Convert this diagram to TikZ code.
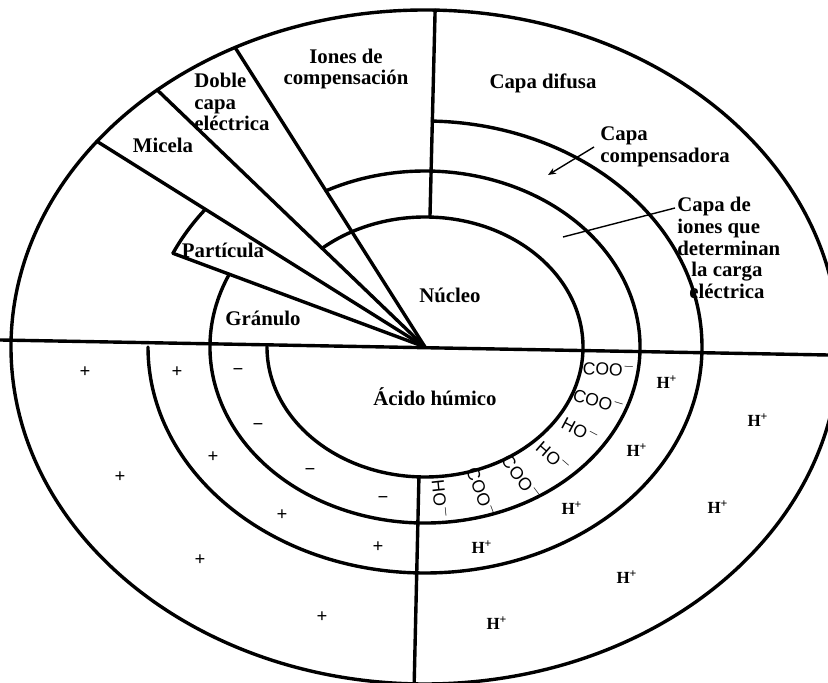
\documentclass[tikz,border=0pt]{standalone}
\usepackage{fontspec}
\setmainfont{Liberation Serif}
\setsansfont{Liberation Sans}
\usepackage{tikz}
\usetikzlibrary{arrows.meta}

\begin{document}
\begin{tikzpicture}[
  x=0.5pt, y=0.5pt,
  font=\fontsize{10.4}{10.8}\selectfont\bfseries,
  rng/.style={line width=1.7pt, line cap=round},
  lab/.style={align=center, inner sep=0pt},
  ion/.style={font=\fontsize{8.5}{9}\selectfont\bfseries, inner sep=0pt},
  sgn/.style={font=\fontsize{9.5}{10}\selectfont\bfseries, inner sep=0pt},
  grp/.style={font=\sffamily\fontsize{8.8}{9}\selectfont, inner sep=0pt},
  ar/.style={-{Stealth[length=4pt, width=3.2pt]}, line width=0.7pt},
  ptr/.style={line width=0.7pt}]
\useasboundingbox (-425,-336) rectangle (403,347);
\coordinate (O) at (0,0);
% ---- outer boundary and dividing line (the scan is squashed, so the rings are ellipses)
\draw[rng] (O) ellipse [x radius=414, y radius=337];
\draw[rng] (-425,7) -- (403,-8);
% ---- rings: full below, cut by the sectors above
\draw[rng] (-158,0) arc[start angle=180, end angle=490.6, x radius=158, y radius=130];
\draw[rng] (155.6:215 and 176) arc[start angle=155.6, end angle=477.4, x radius=215, y radius=176];
\draw[rng] (-277,0) arc[start angle=180, end angle=448.5, x radius=277, y radius=226];
\draw[rng] (155.5:277 and 226) arc[start angle=155.5, end angle=142.45, x radius=277, y radius=226];
% ---- radial lines
\draw[rng] (88.2:158 and 130) -- (88.6:414 and 337);
\draw[rng] (267.8:158 and 130) -- (268.5:414 and 337);
\draw[rng] (O) -- (117.3:414 and 337);
\draw[rng] (O) -- (130.3:414 and 337);
\draw[rng] (O) -- (142.4:414 and 337);
\draw[rng] (O) -- (155.5:277 and 226);
% ---- labels, upper half (micela)
\node[lab] (iones) at (-79,278) {Iones de\\compensación};
\node[lab, align=left] (doble) at (-193,245) {Doble\\capa\\eléctrica};
\node[lab] (micela) at (-262,202) {Micela};
\node[lab] (part) at (-202,97) {Partícula};
\node[lab] (gran) at (-162,29) {Gránulo};
\node[lab] (nucleo) at (25,52) {Núcleo};
\node[lab] (difusa) at (118,264) {Capa difusa};
\node[lab, align=left, anchor=west] (comp) at (175,200) {Capa\\compensadora};
\node[lab, align=left, anchor=north west] (carga) at (252,150) {Capa de\\iones que\\determinan\\\hspace*{7pt}la carga\\\hspace*{6pt}eléctrica};
\coordinate (compend) at (123,172);
\coordinate (cargaend) at (138,110);
\draw[ar] ([xshift=-3pt]comp.west) -- (compend);
\draw[ptr] ([shift={(-1pt,-5.5pt)}]carga.north west) -- (cargaend);
% ---- labels, lower half (humic acid)
\node[lab] (acido) at (10,-50) {Ácido húmico};
\foreach \t/\r/\g [count=\i] in {-8/-4/COO, -20.5/-17/COO, -33/-28/HO, -46/-41/HO, -58.5/-53/COO, -72/-69/COO, -85/-84/HO}
  \node[grp, rotate=\r] (g\i) at (\t:186 and 153) {\g$^-$};
\foreach \x/\y [count=\i] in {242/-35, 333/-73, 212/-103, 147/-161, 293/-160, 57/-200, 202/-230, 72/-276}
  \node[ion] (h\i) at (\x,\y) {H\textsuperscript{+}};
\foreach \x/\y [count=\i] in {-340/-25, -248/-25, -212/-110, -305/-130, -143/-168, -47/-200, -225/-213, -103/-270}
  \node[sgn] (p\i) at (\x,\y) {+};
\foreach \x/\y [count=\i] in {-187/-25, -167/-80, -115/-125, -42/-153}
  \node[sgn] (m\i) at (\x,\y) {−};
\end{tikzpicture}
\end{document}
